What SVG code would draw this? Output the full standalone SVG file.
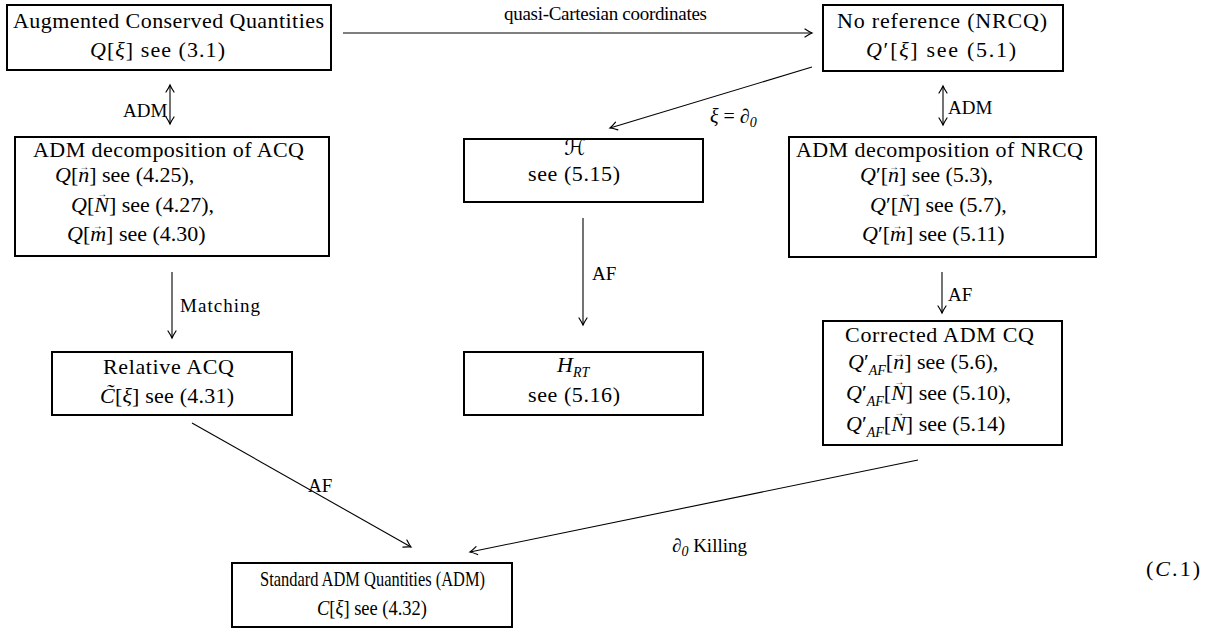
<svg xmlns="http://www.w3.org/2000/svg" width="1218" height="629" viewBox="0 0 1218 629">
<defs>
<style>
text{font-family:"Liberation Serif","DejaVu Serif",serif;font-size:22px;fill:#000}
.lb{font-size:19px}
.i{font-style:italic}
.sub{font-size:14px;font-style:italic}
.v{font-size:10px;font-style:normal}
.box{fill:none;stroke:#000;stroke-width:2}
.c line{stroke:#000;stroke-width:1.1;fill:none}
</style>
<marker id="ah" markerUnits="userSpaceOnUse" markerWidth="20" markerHeight="20" viewBox="-10 -10 20 20" refX="0" refY="0" orient="auto-start-reverse" overflow="visible">
<path d="M-7,-4 Q-2.5,-1 0,0 Q-2.5,1 -7,4" fill="none" stroke="#000" stroke-width="1.2" stroke-linecap="round"/>
</marker>
</defs>
<rect width="1218" height="629" fill="#fff"/>

<g id="acq">
<rect class="box" x="7" y="5" width="324" height="65"/>
<text x="13" y="28" textLength="311" lengthAdjust="spacing">Augmented Conserved Quantities</text>
<text x="90" y="57" textLength="135" lengthAdjust="spacing"><tspan class="i">Q</tspan>[<tspan class="i">ξ</tspan>] see (3.1)</text>
</g>

<g id="nrcq">
<rect class="box" x="823" y="5" width="240" height="66"/>
<text x="837" y="28" textLength="210" lengthAdjust="spacing">No reference (NRCQ)</text>
<text x="866" y="57" textLength="150" lengthAdjust="spacing"><tspan class="i">Q</tspan>′[<tspan class="i">ξ</tspan>] see (5.1)</text>
</g>

<g id="acq-adm">
<rect class="box" x="15" y="137" width="314" height="119"/>
<text x="33" y="157" textLength="271" lengthAdjust="spacing">ADM decomposition of ACQ</text>
<text x="55" y="182"><tspan class="i">Q</tspan>[<tspan class="i">n</tspan><tspan class="v" dx="-10" dy="-12">→</tspan><tspan dx="0" dy="12">]</tspan> see (4.25),</text>
<text x="71" y="212"><tspan class="i">Q</tspan>[<tspan class="i">N</tspan><tspan class="v" dx="-11.7" dy="-15">→</tspan><tspan dx="1.7" dy="15">]</tspan> see (4.27),</text>
<text x="67" y="241"><tspan class="i">Q</tspan>[<tspan class="i">m</tspan><tspan class="v" dx="-13.4" dy="-12">→</tspan><tspan dx="3.4" dy="12">]</tspan> see (4.30)</text>
</g>

<g id="h">
<rect class="box" x="464" y="139" width="239" height="63"/>
<text x="575" y="155" text-anchor="middle" style="font-family:'DejaVu Serif','DejaVu Sans',serif" class="i">ℋ</text>
<text x="528" y="181" textLength="92" lengthAdjust="spacing">see (5.15)</text>
</g>

<g id="nrcq-adm">
<rect class="box" x="789" y="137" width="307" height="120"/>
<text x="796" y="157" textLength="287" lengthAdjust="spacing">ADM decomposition of NRCQ</text>
<text x="860" y="182"><tspan class="i">Q</tspan>′[<tspan class="i">n</tspan><tspan class="v" dx="-10" dy="-12">→</tspan><tspan dx="0" dy="12">]</tspan> see (5.3),</text>
<text x="870" y="212"><tspan class="i">Q</tspan>′[<tspan class="i">N</tspan><tspan class="v" dx="-11.7" dy="-15">→</tspan><tspan dx="1.7" dy="15">]</tspan> see (5.7),</text>
<text x="862" y="241"><tspan class="i">Q</tspan>′[<tspan class="i">m</tspan><tspan class="v" dx="-13.4" dy="-12">→</tspan><tspan dx="3.4" dy="12">]</tspan> see (5.11)</text>
</g>

<g id="relative">
<rect class="box" x="52" y="352" width="240" height="63"/>
<text x="103" y="374" textLength="131" lengthAdjust="spacing">Relative ACQ</text>
<text x="100" y="403" textLength="134" lengthAdjust="spacing"><tspan class="i">C̃</tspan>[<tspan class="i">ξ</tspan>] see (4.31)</text>
</g>

<g id="hrt">
<rect class="box" x="464" y="352" width="239" height="63"/>
<text x="557" y="372"><tspan class="i">H</tspan><tspan class="sub" dy="5">RT</tspan></text>
<text x="528" y="402" textLength="92" lengthAdjust="spacing">see (5.16)</text>
</g>

<g id="corrected">
<rect class="box" x="823" y="321" width="239" height="124"/>
<text x="845" y="342" textLength="189" lengthAdjust="spacing">Corrected ADM CQ</text>
<text x="848" y="369"><tspan class="i">Q</tspan>′<tspan class="sub" dy="6">AF</tspan><tspan dy="-6">[</tspan><tspan class="i">n</tspan><tspan class="v" dx="-10" dy="-12">→</tspan><tspan dx="0" dy="12">]</tspan> see (5.6),</text>
<text x="846" y="400"><tspan class="i">Q</tspan>′<tspan class="sub" dy="6">AF</tspan><tspan dy="-6">[</tspan><tspan class="i">N</tspan><tspan class="v" dx="-11.7" dy="-15">→</tspan><tspan dx="1.7" dy="15">]</tspan> see (5.10),</text>
<text x="846" y="431"><tspan class="i">Q</tspan>′<tspan class="sub" dy="6">AF</tspan><tspan dy="-6">[</tspan><tspan class="i">N</tspan><tspan class="v" dx="-11.7" dy="-15">→</tspan><tspan dx="1.7" dy="15">]</tspan> see (5.14)</text>
</g>

<g id="standard">
<rect class="box" x="232" y="563" width="280" height="64"/>
<text x="260" y="586" textLength="225" lengthAdjust="spacingAndGlyphs">Standard ADM Quantities (ADM)</text>
<text x="317" y="615" textLength="110" lengthAdjust="spacingAndGlyphs"><tspan class="i">C</tspan>[<tspan class="i">ξ</tspan>] see (4.32)</text>
</g>

<text id="eqnum" x="1146" y="576" textLength="54" lengthAdjust="spacing">(<tspan class="i">C</tspan>.1)</text>

<g id="connectors" class="c">
<line x1="343" y1="33" x2="812" y2="33" marker-end="url(#ah)"/>
<line x1="170" y1="85" x2="170" y2="124" marker-start="url(#ah)" marker-end="url(#ah)"/>
<line x1="943" y1="86" x2="943" y2="125" marker-start="url(#ah)" marker-end="url(#ah)"/>
<line x1="812" y1="67" x2="610" y2="128" marker-end="url(#ah)"/>
<line x1="172" y1="272" x2="172" y2="338" marker-end="url(#ah)"/>
<line x1="583" y1="218" x2="583" y2="325" marker-end="url(#ah)"/>
<line x1="942" y1="272" x2="942" y2="313" marker-end="url(#ah)"/>
<line x1="192" y1="423" x2="411" y2="547" marker-end="url(#ah)"/>
<line x1="918" y1="460" x2="470" y2="552" marker-end="url(#ah)"/>
<text class="lb" x="504" y="20" textLength="203" lengthAdjust="spacing">quasi-Cartesian coordinates</text>
<text class="lb" x="123" y="117">ADM</text>
<text class="lb" x="948" y="114">ADM</text>
<text class="lb" x="710" y="123" style="font-size:20px"><tspan class="i">ξ</tspan> = ∂<tspan class="sub" dy="4">0</tspan></text>
<text class="lb" x="180" y="312" textLength="80" lengthAdjust="spacing">Matching</text>
<text class="lb" x="592" y="280">AF</text>
<text class="lb" x="948" y="301">AF</text>
<text class="lb" x="308" y="492">AF</text>
<text class="lb" x="672" y="552">∂<tspan class="sub" dy="4">0</tspan><tspan dy="-4"> Killing</tspan></text>
</g>
</svg>
